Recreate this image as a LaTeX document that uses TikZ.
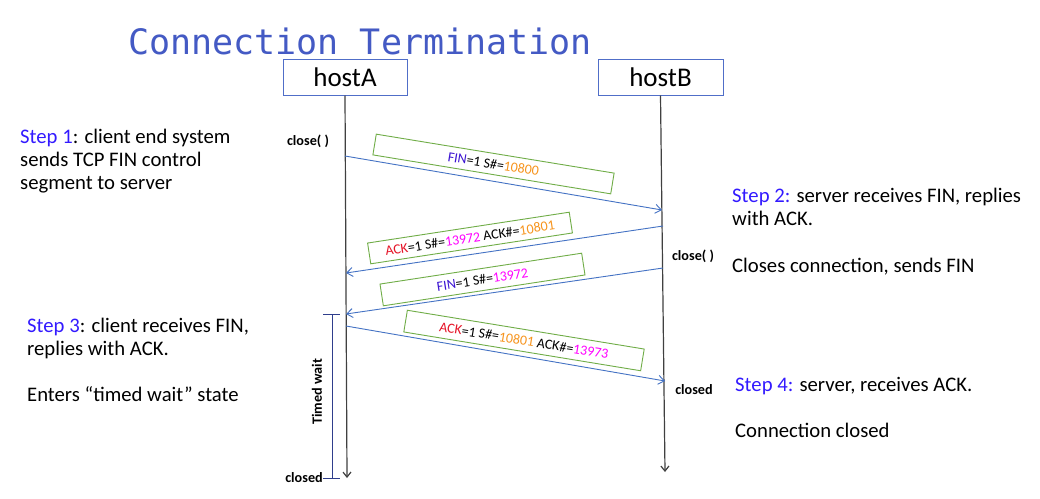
\documentclass[tikz,border=0pt]{standalone}
\usepackage{fontspec}
\setmainfont{Carlito}
\newfontfamily\titlefont{DejaVu Sans Mono}
\usetikzlibrary{arrows.meta}
\definecolor{titleblue}{RGB}{68,90,196}
\definecolor{stepblue}{RGB}{51,26,255}
\definecolor{finblue}{RGB}{60,20,210}
\definecolor{ackred}{RGB}{230,20,40}
\definecolor{seqorange}{RGB}{247,148,29}
\definecolor{seqmag}{RGB}{255,0,255}
\definecolor{pktgreen}{RGB}{112,173,71}
\definecolor{msgblue}{RGB}{68,114,196}
\definecolor{hostbox}{RGB}{80,110,200}
\definecolor{bracketblue}{RGB}{47,62,140}
\newcommand{\fsz}[2]{\fontsize{#1}{#2}\selectfont}
\tikzset{
  host/.style={draw=hostbox, line width=1pt, minimum width=124pt, minimum height=36pt, inner sep=0pt, font=\fsz{27}{32}},
  life/.style={draw=black!75, line width=1.2pt, -{Straight Barb[length=5pt,width=8pt]}},
  msg/.style={draw=msgblue, line width=0.9pt, -{Straight Barb[length=6pt,width=9pt]}},
  pkt/.style={draw=pktgreen, line width=0.9pt, inner sep=0pt, font=\fsz{14}{16}},
  steptext/.style={align=left, anchor=north west, inner sep=0pt, font=\fsz{20.7}{22.8}},
  smalllabel/.style={font=\bfseries\fsz{14.2}{16}, inner sep=0pt},
  bracket/.style={draw=bracketblue, line width=1pt}
}
\begin{document}
\begin{tikzpicture}[x=1pt,y=-1pt]
\useasboundingbox (0,0) rectangle (1040,498);
\fill[white] (0,0) rectangle (1040,498);
% title
\node[font=\titlefont\fsz{35}{40}, text=titleblue, anchor=base west, inner sep=0pt] (title) at (128,54) {Connection Termination};
% hosts
\node[host] (hostA) at (345,77) {hostA};
\node[host, minimum width=125pt] (hostB) at (660.5,77) {hostB};
\coordinate (Aend) at (347,478);
\coordinate (Bend) at (665,472);
\draw[life] (hostA.south) -- (Aend);
\draw[life] (hostB.south) -- (Bend);
% message endpoints
\coordinate (a1) at (345,156);
\coordinate (b1) at (662,210);
\coordinate (b2) at (663,226);
\coordinate (a2) at (346,273);
\coordinate (b3) at (663,268);
\coordinate (a3) at (346,314);
\coordinate (a4) at (346,326);
\coordinate (b4) at (665,381);
\draw[msg] (a1) -- (b1);
\draw[msg] (b2) -- (a2);
\draw[msg] (b3) -- (a3);
\draw[msg] (a4) -- (b4);
% packets
\node[pkt, rotate=-9.3, minimum width=241pt, minimum height=21pt] (p1) at (493.5,164) {\textcolor{finblue}{FIN}=1 S\#=\textcolor{seqorange}{10800}};
\node[pkt, rotate=8.7, minimum width=204pt, minimum height=21pt] (p2) at (470,238) {\textcolor{ackred}{ACK}=1 S\#=\textcolor{seqmag}{13972} ACK\#=\textcolor{seqorange}{10801}};
\node[pkt, rotate=8.7, minimum width=204pt, minimum height=22pt] (p3) at (482.5,279.5) {\textcolor{finblue}{FIN}=1 S\#=\textcolor{seqmag}{13972}};
\node[pkt, rotate=-9.3, minimum width=240pt, minimum height=22pt] (p4) at (524,340.5) {\textcolor{ackred}{ACK}=1 S\#=\textcolor{seqorange}{10801} ACK\#=\textcolor{seqmag}{13973}};
% timed wait bracket
\coordinate (tw1) at (332,314);
\coordinate (tw2) at (332,478);
\coordinate (tw1l) at (323,314);
\coordinate (tw1r) at (340,314);
\coordinate (tw2l) at (323,478);
\coordinate (tw2r) at (340,478);
\draw[bracket] (tw1) -- (tw2);
\draw[bracket] (tw1l) -- (tw1r);
\draw[bracket] (tw2l) -- (tw2r);
\node[smalllabel, rotate=90] (tw) at (317,392) {Timed wait};
% small labels
\node[smalllabel] (closeA) at (308,141) {close( )};
\node[smalllabel] (closeB) at (693,256) {close( )};
\node[smalllabel] (closedB) at (694,390) {closed};
\node[smalllabel, anchor=east] (closedA) at (323,478) {closed};
% step texts
\node[steptext] (s1) at (20,129) {\textcolor{stepblue}{Step 1}: client end system\\sends TCP FIN control\\segment to server};
\node[steptext] (s2) at (732,188) {\textcolor{stepblue}{Step 2:} server receives FIN, replies\\with ACK.};
\node[steptext] (s2b) at (732,258) {Closes connection, sends FIN};
\node[steptext] (s3) at (27,318) {\textcolor{stepblue}{Step 3}: client receives FIN,\\replies with ACK.};
\node[steptext] (s3b) at (27,386) {Enters “timed wait” state};
\node[steptext] (s4) at (735,377) {\textcolor{stepblue}{Step 4:} server, receives ACK.};
\node[steptext] (s4b) at (735,423) {Connection closed};
\end{tikzpicture}
\end{document}
